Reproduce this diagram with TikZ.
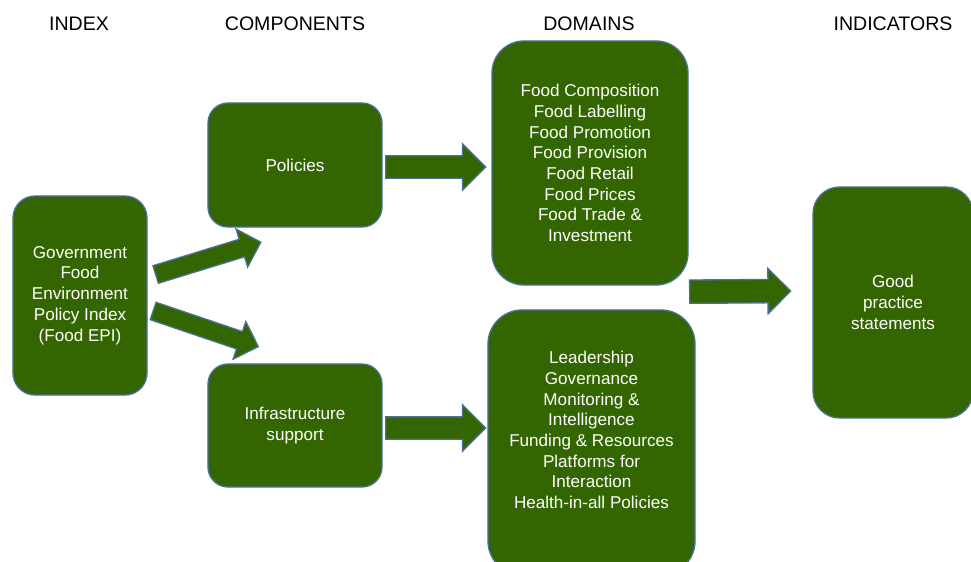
\documentclass[tikz,border=0pt]{standalone}
\usepackage{fontspec}
\setmainfont{Liberation Sans}
\usetikzlibrary{shapes.arrows}
\tikzset{
  head/.style={font=\fontsize{16.7}{20}\selectfont},
  boxtext/.style={text=white, align=center,
    font=\fontsize{14.6}{17.7}\selectfont},
  box/.style={boxtext, draw=edge, line width=.04cm, fill=leaf,
    rounded corners=#1},
  box/.default=.6cm,
  fat/.style n args={3}{single arrow, draw=edge, line width=.04cm,
    fill=leaf, inner xsep=0pt, outer sep=0pt, minimum height=#1,
    inner ysep=#2, single arrow head extend=#3,
    sloped, pos=0, anchor=tail}
}
\begin{document}
\begin{tikzpicture}[x=.03cm, y=-.03cm]
 \definecolor{leaf}{RGB}{51,102,0}
 \definecolor{edge}{RGB}{74,112,150}
 \clip (0,0) rectangle (971,562);
 % column heads
 \foreach \name/\xp in {INDEX/79, COMPONENTS/295,
   DOMAINS/589, INDICATORS/893}
   \node[head] (\name) at (\xp,24) {\name};
 % boxes
 \node[box=.66cm, minimum width=4.02cm, minimum height=5.97cm]
   (idx) at (80,295.5)
   {Government\\Food\\Environment\\Policy Index\\(Food EPI)};
 \node[box, minimum width=5.22cm, minimum height=3.72cm]
   (pol) at (295,165) {Policies};
 \node[box, minimum width=5.22cm, minimum height=3.69cm]
   (infra) at (295,425.5) {Infrastructure\\support};
 \node[box=.96cm, minimum width=5.88cm, minimum height=7.32cm]
   (domA) at (590,163)
   {Food Composition\\Food Labelling\\Food Promotion\\
    Food Provision\\Food Retail\\Food Prices\\
    Food Trade \&\\Investment};
 \node[box=1.02cm, minimum width=6.21cm, minimum height=7.95cm]
   (domB) at (591.5,442.5) {};
 \node[boxtext] (domBtext) at (591.5,430)
   {Leadership\\Governance\\Monitoring \&\\Intelligence\\
    Funding \& Resources\\Platforms for\\Interaction\\
    Health-in-all Policies};
 \node[box=.8cm, minimum width=4.8cm, minimum height=6.93cm]
   (good) at (893,302.5) {Good\\practice\\statements};
 % block arrows
 \path ([shift={(8,-21)}]idx.east) --
   node[fat={3.3cm}{.255cm}{.32cm}] {}
   ([shift={(52,15)}]pol.south west);
 \path ([shift={(5.5,15.5)}]idx.east) --
   node[fat={3.33cm}{.255cm}{.32cm}] {}
   ([shift={(50,-17)}]infra.north west);
 \path ([shift={(3,2)}]pol.east) --
   node[fat={3cm}{.315cm}{.36cm}] {}
   ([shift={(-7,4)}]domA.west);
 \path ([shift={(3,2.5)}]infra.east) --
   node[fat={3cm}{.315cm}{.36cm}] {}
   ([shift={(-3,-14.5)}]domB.west);
 \path ([shift={(1,6)}]domA.south east) --
   node[fat={3.03cm}{.33cm}{.33cm}] {}
   ([shift={(-23,-11.5)}]good.west);
\end{tikzpicture}
\end{document}
